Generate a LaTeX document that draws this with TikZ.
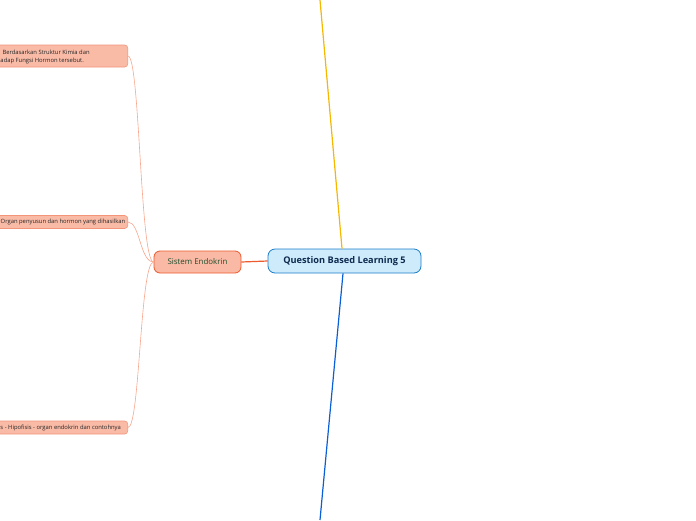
\documentclass[tikz,border=0pt]{standalone}
\usepackage{fontspec}
\setmainfont{Open Sans}
\definecolor{cfill}{HTML}{CDEBFB}
\definecolor{cdraw}{HTML}{1B7DC8}
\definecolor{ctext}{HTML}{0E2A4F}
\definecolor{sfill}{HTML}{F9B9A4}
\definecolor{sdraw}{HTML}{EC5A2E}
\definecolor{stext}{HTML}{1E4E2E}
\definecolor{lfill}{HTML}{F9BAA6}
\definecolor{ldraw}{HTML}{F2957A}
\definecolor{lline}{HTML}{F7A68C}
\definecolor{yline}{HTML}{F5B700}
\definecolor{bline}{HTML}{0B5FD6}
\tikzset{
  centralbox/.style={draw=cdraw, fill=cfill, line width=0.8pt, rounded corners=7pt, minimum width=153pt, minimum height=24pt, inner sep=0pt, text=ctext, font=\fontsize{9.2}{11}\selectfont\bfseries},
  mainbox/.style={draw=sdraw, fill=sfill, line width=0.8pt, rounded corners=6pt, minimum width=87pt, minimum height=22pt, inner sep=0pt, text=stext, font=\fontsize{7.9}{9}\selectfont},
  leafbox/.style={draw=ldraw, fill=lfill, line width=0.6pt, rounded corners=3pt, minimum width=170pt, inner sep=0pt, anchor=east},
  leaftext/.style={anchor=west, inner sep=0pt, text=black!85, font=\fontsize{5.85}{8}\selectfont, align=left},
  thin/.style={draw=lline, line width=0.6pt}
}
\begin{document}
\begin{tikzpicture}[x=1pt,y=-1pt]
\useasboundingbox (0,0) rectangle (696,520);
\clip (0,0) rectangle (696,520);
\coordinate (ytop) at (320,0);
\coordinate (bbot) at (320,520);
\node[centralbox] (central) at (344.5,261) {Question Based Learning 5};
\node[mainbox] (sys) at (197.5,262) {Sistem Endokrin};
\node[leafbox, minimum height=22pt] (l1) at (128,56) {};
\node[leafbox, minimum height=13pt] (l2) at (128,222) {};
\node[leafbox, minimum height=13pt] (l3) at (128,427.5) {};
\node[leaftext] (t1) at (0.3,56.5) {\hspace*{2pt}Berdasarkan Struktur Kimia dan\\adap Fungsi Hormon tersebut.};
\node[leaftext] (t2) at (0.5,222) {Organ penyusun dan hormon yang dihasilkan};
\node[leaftext] (t3) at (0.3,427.5) {s - Hipofisis - organ endokrin dan contohnya};
\draw[yline, line width=1.2pt] (ytop) -- ([xshift=-2.5pt]central.north);
\draw[bline, line width=1.2pt] ([xshift=-1.5pt]central.south) -- (bbot);
\draw[sdraw, line width=1.2pt] (central.west) -- (sys.east);
\draw[thin] (sys.west) .. controls (140,262) and (140,56) .. (l1.east);
\draw[thin] (sys.west) .. controls (140,262) and (140,222) .. (l2.east);
\draw[thin] (sys.west) .. controls (140,262) and (140,427.5) .. (l3.east);
\end{tikzpicture}
\end{document}
